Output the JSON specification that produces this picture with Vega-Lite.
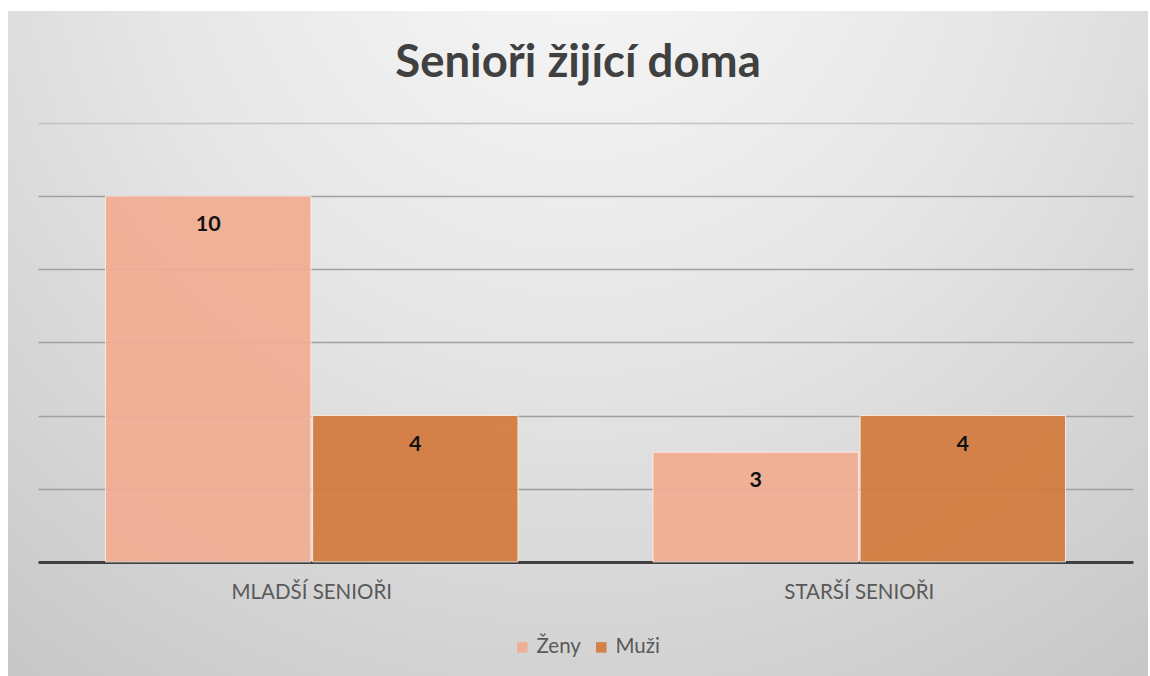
{
  "$schema": "https://vega.github.io/schema/vega-lite/v6.json",
  "width": 1140,
  "height": 665,
  "autosize": "none",
  "padding": {"left": 8, "top": 11, "right": 2, "bottom": 0},
  "background": "white",
  "title": {
    "text": "Senioři žijící doma",
    "font": "Lato",
    "fontSize": 45.5,
    "fontWeight": "bold",
    "color": "#404040",
    "anchor": "middle",
    "baseline": "alphabetic",
    "offset": -67,
    "dy": 44
  },
  "data": {
    "values": [
      {"group": "MLADŠÍ SENIOŘI", "sex": "Ženy", "value": 10},
      {"group": "MLADŠÍ SENIOŘI", "sex": "Muži", "value": 4},
      {"group": "STARŠÍ SENIOŘI", "sex": "Ženy", "value": 3},
      {"group": "STARŠÍ SENIOŘI", "sex": "Muži", "value": 4}
    ]
  },
  "encoding": {
    "x": {
      "field": "group",
      "type": "nominal",
      "sort": null,
      "scale": {"range": [30, 1125], "paddingInner": 0, "paddingOuter": 0},
      "axis": {
        "title": null,
        "orient": "bottom",
        "offset": -114,
        "labelAngle": 0,
        "labelFont": "Lato",
        "labelFontSize": 20.5,
        "labelColor": "#595959",
        "labelPadding": 20,
        "ticks": false,
        "domainColor": "#404040",
        "domainWidth": 3
      }
    },
    "xOffset": {
      "field": "sex",
      "type": "nominal",
      "sort": ["Ženy", "Muži"],
      "scale": {"paddingOuter": 0.326, "paddingInner": 0.008}
    },
    "y": {
      "field": "value",
      "type": "quantitative",
      "scale": {"domain": [-3.12, 15.06], "nice": false, "zero": false},
      "axis": {
        "title": null,
        "labels": false,
        "ticks": false,
        "domain": false,
        "grid": true,
        "values": [2, 4, 6, 8, 10, 12],
        "gridColor": {"condition": {"test": "datum.value >= 12", "value": "#c4c4c4"}, "value": "#a0a0a0"},
        "gridWidth": 1.5
      }
    }
  },
  "layer": [
    {
      "mark": {"type": "bar", "opacity": 0.92, "stroke": "#fde9df", "strokeWidth": 1},
      "encoding": {
        "y2": {"datum": 0},
        "color": {
          "field": "sex",
          "type": "nominal",
          "sort": ["Ženy", "Muži"],
          "scale": {"domain": ["Ženy", "Muži"], "range": ["#F2AD93", "#D47A3D"]},
          "legend": {
            "title": null,
            "orient": "none",
            "direction": "horizontal",
            "legendX": 504,
            "legendY": 626,
            "symbolType": "square",
            "symbolSize": 110,
            "symbolStrokeWidth": 0,
            "labelFont": "Lato",
            "labelFontSize": 20.5,
            "labelColor": "#595959",
            "labelOffset": 4,
            "columnPadding": 10
          }
        }
      }
    },
    {
      "mark": {"type": "text", "dy": 29, "font": "Lato", "fontSize": 21.5, "fontWeight": "bold", "color": "#111111", "baseline": "middle"},
      "encoding": {
        "text": {"field": "value", "type": "quantitative"}
      }
    }
  ],
  "config": {
    "view": {
      "stroke": null,
      "fill": {
        "gradient": "radial",
        "x1": 0.5, "y1": 0.12, "r1": 0,
        "x2": 0.5, "y2": 0.12, "r2": 0.85,
        "stops": [
          {"offset": 0, "color": "#f8f8f8"},
          {"offset": 0.45, "color": "#e6e6e6"},
          {"offset": 1, "color": "#c6c6c6"}
        ]
      }
    }
  }
}
